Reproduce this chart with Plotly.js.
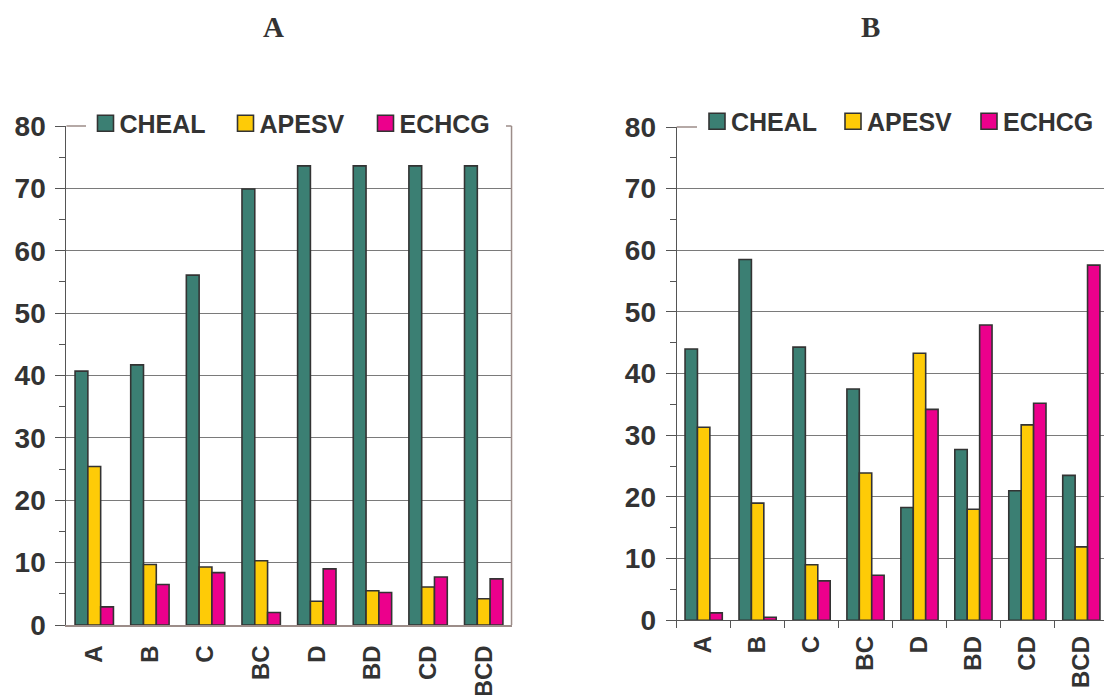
<!DOCTYPE html>
<html><head><meta charset="utf-8">
<script src="https://cdn.plot.ly/plotly-3.0.1.min.js"></script>
<style>
html,body{margin:0;padding:0;background:#fff}
#chart{width:1105px;height:695px}
</style>
</head><body><div id="chart"></div>
<script>
// ---- data ----
const categories = ['A', 'B', 'C', 'BC', 'D', 'BD', 'CD', 'BCD'];
const seriesNames = ['CHEAL', 'APESV', 'ECHCG'];
const panelA_CHEAL = [40.7, 41.7, 56.1, 69.9, 73.6, 73.6, 73.6, 73.6];
const panelA_APESV = [25.4, 9.7, 9.3, 10.3, 3.8, 5.5, 6.1, 4.2];
const panelA_ECHCG = [2.9, 6.5, 8.4, 2.0, 9.0, 5.2, 7.7, 7.4];
const panelB_CHEAL = [44.0, 58.5, 44.3, 37.5, 18.3, 27.7, 21.0, 23.5];
const panelB_APESV = [31.3, 19.0, 9.0, 23.9, 43.3, 18.0, 31.7, 11.9];
const panelB_ECHCG = [1.2, 0.5, 6.4, 7.3, 34.2, 47.9, 35.2, 57.6];
const yTickVals = [0, 10, 20, 30, 40, 50, 60, 70, 80];
const panelTitles = ['A', 'B'];

// ---- styles ----
const W = 1105, H = 695;
const fx = x => x / W;
const fy = y => 1 - y / H;
const colors = ['#3b7f73', '#fecb07', '#ec008c'];
const barLine = {color: '#333333', width: 1.6};
const textColor = '#333333';
const axisDark = '#555555';
const frameBrown = '#9c8d89';
const sans = 'Liberation Sans, Arial, sans-serif';

const panelA = [panelA_CHEAL, panelA_APESV, panelA_ECHCG];
const panelB = [panelB_CHEAL, panelB_APESV, panelB_ECHCG];

const traces = [];
[[panelA, 'x', 'y', 'legend'], [panelB, 'x2', 'y2', 'legend2']].forEach(([vals, xa, ya, lg]) => {
  vals.forEach((v, i) => {
    traces.push({
      type: 'bar', x: categories, y: v, name: seriesNames[i],
      xaxis: xa, yaxis: ya, showlegend: false,
      marker: {color: colors[i], line: barLine}, hoverinfo: 'x+y+name'
    });
  });
  seriesNames.forEach((n, i) => {
    traces.push({
      type: 'scatter', mode: 'markers', x: [null], y: [null], name: n,
      xaxis: xa, yaxis: ya, legend: lg, showlegend: true,
      marker: {symbol: 'square', size: 16, color: colors[i], line: {color: '#333333', width: 1.6}},
      hoverinfo: 'skip'
    });
  });
});

const yBase = {
  range: [0, 80], tickvals: yTickVals, ticks: 'outside', ticklen: 10, tickwidth: 1,
  tickcolor: axisDark, showline: true, linecolor: axisDark, linewidth: 1.2,
  showgrid: true, gridcolor: '#7a7a7a', gridwidth: 1, zeroline: false,
  tickfont: {family: sans, size: 28, weight: 'bold', color: textColor},
  ticklabelstandoff: 4,
  minor: {dtick: 5, ticks: 'outside', ticklen: 6, tickcolor: axisDark, showgrid: false},
  fixedrange: true
};
const xBase = {
  type: 'category', tickangle: -90, showgrid: false, zeroline: false, showline: true,
  tickfont: {family: sans, size: 24, weight: 'bold', color: textColor}, fixedrange: true
};

const legendBase = {
  orientation: 'h', bgcolor: '#ffffff', borderwidth: 0, yanchor: 'middle', xanchor: 'left',
  font: {family: sans, size: 25, weight: 'bold', color: textColor},
  entrywidthmode: 'pixels', itemwidth: 30, traceorder: 'normal'
};

const layout = {
  width: W, height: H, margin: {l: 0, r: 0, t: 0, b: 0},
  paper_bgcolor: '#ffffff', plot_bgcolor: '#ffffff',
  barmode: 'group', bargap: 0.31, bargroupgap: 0,
  xaxis: Object.assign({}, xBase, {domain: [fx(66.5), fx(512)], anchor: 'y', range: [-0.5, 7.5],
    linecolor: frameBrown, linewidth: 1.5, ticks: '', ticklabelstandoff: 9}),
  yaxis: Object.assign({}, yBase, {domain: [fy(625), fy(126)], anchor: 'x'}),
  xaxis2: Object.assign({}, xBase, {domain: [fx(677.3), 1], anchor: 'y2', range: [-0.5, 7.42],
    linecolor: axisDark, linewidth: 1.2, ticks: 'outside', tickson: 'boundaries', ticklen: 7,
    tickcolor: axisDark, ticklabelstandoff: 5}),
  yaxis2: Object.assign({}, yBase, {domain: [fy(620.3), fy(127)], anchor: 'x2'}),
  legend: Object.assign({}, legendBase, {x: fx(85.5), y: fy(123.5), entrywidth: 95}),
  legend2: Object.assign({}, legendBase, {x: fx(697.7), y: fy(121.5), entrywidth: 91}),
  shapes: [
    {type: 'line', xref: 'x domain', yref: 'y domain', x0: 0, x1: 1, y0: 1, y1: 1,
     line: {color: frameBrown, width: 1.5}},
    {type: 'line', xref: 'x domain', yref: 'y domain', x0: 1, x1: 1, y0: 0, y1: 1,
     line: {color: frameBrown, width: 1.5}},
    {type: 'line', xref: 'x2 domain', yref: 'y2 domain', x0: 0, x1: 1, y0: 1, y1: 1,
     line: {color: frameBrown, width: 1.5}}
  ],
  annotations: [
    {text: panelTitles[0], x: fx(274), y: fy(27), xref: 'paper', yref: 'paper', showarrow: false,
     xanchor: 'center', yanchor: 'middle',
     font: {family: 'Liberation Serif, Times New Roman, serif', size: 29, weight: 'bold', color: textColor}},
    {text: panelTitles[1], x: fx(871), y: fy(27), xref: 'paper', yref: 'paper', showarrow: false,
     xanchor: 'center', yanchor: 'middle',
     font: {family: 'Liberation Serif, Times New Roman, serif', size: 29, weight: 'bold', color: textColor}}
  ]
};

// pull every legend label a little closer to its colour square, as in the reference
function tightenLegends() {
  document.querySelectorAll('#chart svg text').forEach(t => {
    if (seriesNames.includes(t.textContent.trim())) {
      t.setAttribute('transform', 'translate(-6,0)');
    }
  });
}
const gd = document.getElementById('chart');
Plotly.newPlot(gd, traces, layout, {displayModeBar: false, responsive: false}).then(() => {
  tightenLegends();
  gd.on('plotly_afterplot', tightenLegends);
  requestAnimationFrame(tightenLegends);
});
</script></body></html>
